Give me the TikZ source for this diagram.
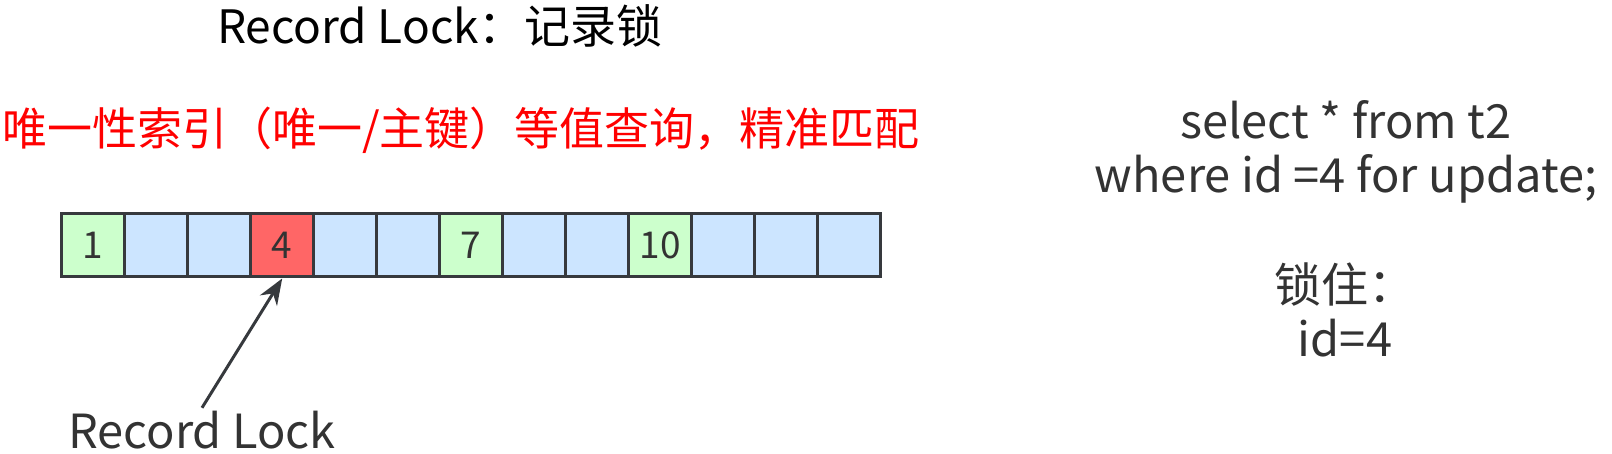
\documentclass[tikz,border=0pt]{standalone}
\usepackage{fontspec}
\setmainfont{Noto Sans CJK SC}
\usetikzlibrary{arrows.meta}
\definecolor{cgreen}{HTML}{CCFFCC}
\definecolor{cblue}{HTML}{CCE5FF}
\definecolor{cred}{HTML}{FF6666}
\definecolor{cline}{HTML}{36393D}
\definecolor{ctext}{HTML}{333333}
\definecolor{tred}{HTML}{FF0000}
\tikzset{
  cell/.style={draw=cline, line width=3pt, minimum width=63pt, minimum height=63pt, inner sep=0pt, anchor=center, font=\fontsize{37}{40}\selectfont, text=ctext},
  bigtext/.style={font=\fontsize{46}{53}\selectfont, inner sep=0pt},
  sidetext/.style={font=\fontsize{47}{54}\selectfont, inner sep=0pt, text=ctext, align=center},
}
\begin{document}
\begin{tikzpicture}[x=1pt,y=-1pt]
\useasboundingbox (0,0) rectangle (1612,454);
\node[bigtext, text=black] (title) at (440,26) {Record Lock：记录锁};
\node[font=\fontsize{45}{53}\selectfont, inner sep=0pt, text=tred] (sub) at (461,130) {唯一性索引（唯一/主键）等值查询，精准匹配};
\foreach \i/\c/\t in {0/cgreen/1,1/cblue/,2/cblue/,3/cred/4,4/cblue/,5/cblue/,6/cgreen/7,7/cblue/,8/cblue/,9/cgreen/10,10/cblue/,11/cblue/,12/cblue/}{
  \node[cell, fill=\c] (c\i) at ({93.2+63*\i},245.5) {\t};
}
\node[sidetext] (lbl) at (202,430) {Record Lock};
\draw[cline, line width=3pt, -{Stealth[length=26pt,width=20pt]}] ([yshift=3pt]lbl.north) -- (c3.south);
\node[sidetext] (sql) at (1346,152) {select * from t2\\where id =4 for update;};
\node[sidetext] (lock) at (1345,310) {锁住：\\id=4};
\end{tikzpicture}
\end{document}
